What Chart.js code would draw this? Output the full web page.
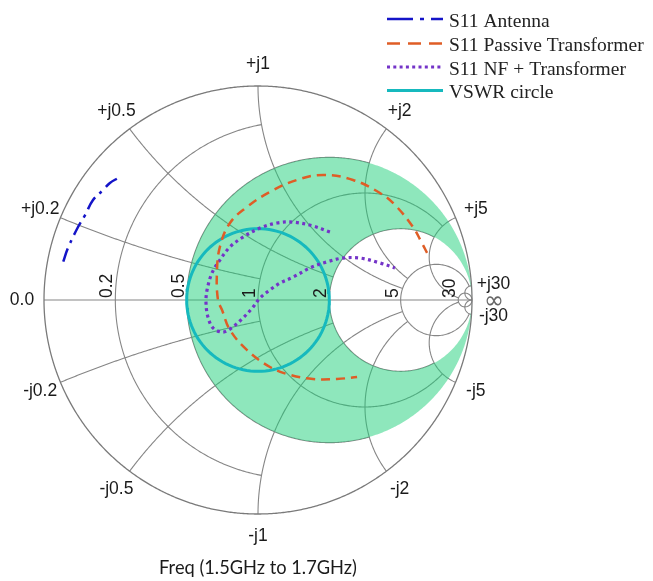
<!DOCTYPE html>
<html><head><meta charset="utf-8">
<script src="https://cdn.jsdelivr.net/npm/chart.js@4/dist/chart.umd.min.js"></script>
<style>html,body{margin:0;padding:0;background:#fff;}#wrap{width:653px;height:581px;position:relative;}</style>
</head><body><div id="wrap"><canvas id="c" width="653" height="581"></canvas></div>
<script>
// ---- data (reflection coefficient, real / imaginary parts) ----
const seriesNames = ['S11 Antenna', 'S11 Passive Transformer', 'S11 NF + Transformer', 'VSWR circle'];
const antennaRe = [-0.910, -0.888, -0.841, -0.808, -0.771, -0.724, -0.692, -0.654];
const antennaIm = [0.179, 0.243, 0.341, 0.397, 0.467, 0.514, 0.547, 0.570];
const passiveRe = [0.790, 0.766, 0.724, 0.640, 0.570, 0.444, 0.304, 0.182, 0.056, -0.051, -0.131, -0.178, -0.192, -0.187, -0.168, -0.131, -0.051, 0.056, 0.150, 0.257, 0.369, 0.463];
const passiveIm = [0.220, 0.266, 0.341, 0.444, 0.500, 0.561, 0.584, 0.561, 0.505, 0.435, 0.360, 0.248, 0.126, 0.000, -0.047, -0.140, -0.234, -0.313, -0.350, -0.369, -0.369, -0.360];
const nfRe = [0.336, 0.257, 0.164, 0.089, 0.009, -0.070, -0.131, -0.178, -0.215, -0.238, -0.243, -0.234, -0.210, -0.168, -0.131, -0.070, -0.023, 0.009, 0.056, 0.103, 0.164, 0.243, 0.322, 0.397, 0.477, 0.570, 0.640];
const nfIm = [0.318, 0.346, 0.364, 0.360, 0.336, 0.294, 0.248, 0.187, 0.126, 0.047, -0.014, -0.079, -0.131, -0.150, -0.136, -0.084, -0.033, 0.009, 0.047, 0.079, 0.107, 0.150, 0.178, 0.196, 0.196, 0.173, 0.150];
const vswrValue = 2;
// ---- Smith grid ----
const gridValues = [0.2, 0.5, 1, 2, 5, 30];
const gridLimits = [1, 2, 5, 5, 30, Infinity];
const resistanceTickLabels = ['0.2', '0.5', '1', '2', '5', '30'];
const reactanceTickLabels = ['+j0.2', '+j0.5', '+j1', '+j2', '+j5', '+j30'];
const negReactanceTickLabels = ['-j0.2', '-j0.5', '-j1', '-j2', '-j5', '-j30'];
const endTickLabels = ['0.0', '\u221E'];
const shadedBand = [0.5, 2];
const footerText = 'Freq (1.5GHz to 1.7GHz)';

function zToG(r, x) {
  const d = (r + 1) * (r + 1) + x * x;
  return [(r * r - 1 + x * x) / d, (2 * x) / d];
}
function pts(re, im) { return re.map((v, i) => ({ x: v, y: im[i] })); }
const vswrGamma = (vswrValue - 1) / (vswrValue + 1);
const vswrPts = [];
for (let a = 0; a <= 360; a += 3) vswrPts.push({ x: vswrGamma * Math.cos(a * Math.PI / 180), y: vswrGamma * Math.sin(a * Math.PI / 180) });

const legendDash = [[26, 7, 4, 7], [13, 8], [3, 3.3], []];

const smithPlugin = {
  id: 'smith',
  beforeDatasetsDraw(chart) {
    const { ctx, scales: { x: xs, y: ys } } = chart;
    const px = g => xs.getPixelForValue(g), py = g => ys.getPixelForValue(g);
    function arcPath(cx, cy, rho, a0, a1, sgn, newPath = true) {
      const n = Math.max(30, Math.ceil(Math.abs(a1 - a0) * rho * 150));
      if (newPath) ctx.beginPath();
      for (let i = 0; i <= n; i++) {
        const a = a0 + (a1 - a0) * i / n;
        const X = px(cx + rho * Math.cos(a)), Y = py(sgn * (cy + rho * Math.sin(a)));
        i ? ctx.lineTo(X, Y) : ctx.moveTo(X, Y);
      }
    }
    const norm = a => (a < 0 ? a + 2 * Math.PI : a);
    ctx.save();
    ctx.strokeStyle = '#868686';
    ctx.lineWidth = 1.1;
    gridValues.forEach((v, i) => {
      const L = gridLimits[i];
      const cx = v / (1 + v), rho = 1 / (1 + v);
      if (L === Infinity) { arcPath(cx, 0, rho, 0, 2 * Math.PI, 1); ctx.stroke(); }
      else {
        const g = zToG(v, L);
        const phi = Math.atan2(g[1], g[0] - cx);
        arcPath(cx, 0, rho, phi, 2 * Math.PI - phi, 1); ctx.stroke();
      }
      const cy = 1 / v;
      const g0 = zToG(0, v);
      const a0 = norm(Math.atan2(g0[1] - cy, g0[0] - 1));
      let a1 = 1.5 * Math.PI;
      if (L !== Infinity) { const g1 = zToG(L, v); a1 = norm(Math.atan2(g1[1] - cy, g1[0] - 1)); }
      [1, -1].forEach(s => { arcPath(1, cy, 1 / v, a0, a1, s); ctx.stroke(); });
    });
    ctx.beginPath(); ctx.moveTo(px(-1), py(0)); ctx.lineTo(px(1), py(0)); ctx.stroke();
    ctx.beginPath();
    shadedBand.forEach(r => { arcPath(r / (1 + r), 0, 1 / (1 + r), 0, 2 * Math.PI, 1, false); ctx.closePath(); });
    ctx.fillStyle = 'rgba(30,208,122,0.50)';
    ctx.fill('evenodd');
    ctx.strokeStyle = '#7a7a7a'; ctx.lineWidth = 1.3;
    arcPath(0, 0, 1, 0, 2 * Math.PI, 1); ctx.stroke();
    const cX = px(0), cY = py(0), R = px(1) - px(0), off = 22;
    ctx.fillStyle = '#1a1a1a';
    ctx.font = '17.5px "Liberation Sans", Arial, sans-serif';
    ctx.textAlign = 'center'; ctx.textBaseline = 'middle';
    gridValues.forEach((v, i) => {
      const g = zToG(0, v);
      const th = Math.atan2(g[1], g[0]);
      ctx.fillText(reactanceTickLabels[i], cX + (R + off) * Math.cos(th), cY - (R + off) * Math.sin(th));
      ctx.fillText(negReactanceTickLabels[i], cX + (R + off) * Math.cos(th), cY + (R + off) * Math.sin(th));
    });
    ctx.fillText(endTickLabels[0], cX - R - off, cY);
    ctx.fillStyle = '#666';
    ctx.font = '24px "DejaVu Sans", sans-serif';
    ctx.fillText(endTickLabels[1], cX + R + off, cY + 2);
    ctx.font = '17.5px "Liberation Sans", Arial, sans-serif';
    ctx.fillStyle = '#1a1a1a';
    ctx.textAlign = 'left'; ctx.textBaseline = 'alphabetic';
    gridValues.forEach((v, i) => {
      const xl = px((v - 1) / (v + 1));
      ctx.save();
      ctx.translate(xl - 3, cY - 2);
      ctx.rotate(-Math.PI / 2);
      ctx.fillText(resistanceTickLabels[i], 0, 0);
      ctx.restore();
    });
    ctx.restore();
  },
  afterDraw(chart) {
    const { ctx } = chart;
    ctx.save();
    const rows = [19, 43.5, 67, 90.5];
    chart.data.datasets.forEach((ds, i) => {
      ctx.beginPath();
      ctx.strokeStyle = ds.borderColor; ctx.lineWidth = ds.borderWidth;
      ctx.setLineDash(legendDash[i]);
      ctx.moveTo(387, rows[i]); ctx.lineTo(443, rows[i]); ctx.stroke();
      ctx.setLineDash([]);
      ctx.fillStyle = '#222';
      ctx.font = '19.5px "Liberation Serif", "Times New Roman", serif';
      ctx.textAlign = 'left'; ctx.textBaseline = 'alphabetic';
      ctx.fillText(ds.label, 449, rows[i] + 7.5);
    });
    ctx.font = '17px Lato, "Liberation Sans", sans-serif';
    const w = ctx.measureText(footerText).width;
    const size = 17 * 198 / w;
    ctx.font = size.toFixed(2) + 'px Lato, "Liberation Sans", sans-serif';
    ctx.textAlign = 'center'; ctx.textBaseline = 'alphabetic';
    ctx.fillStyle = '#1a1a1a';
    ctx.fillText(footerText, 258, 574);
    ctx.restore();
  }
};

new Chart(document.getElementById('c'), {
  type: 'scatter',
  data: {
    datasets: [
      { label: seriesNames[0], data: pts(antennaRe, antennaIm), showLine: true, borderColor: '#1414c8', borderWidth: 2.5, borderDash: [14, 6, 3, 6], pointRadius: 0, tension: 0.4, fill: false },
      { label: seriesNames[1], data: pts(passiveRe, passiveIm), showLine: true, borderColor: '#df5d26', borderWidth: 2.5, borderDash: [9, 6], pointRadius: 0, tension: 0.4, fill: false },
      { label: seriesNames[2], data: pts(nfRe, nfIm), showLine: true, borderColor: '#7434c8', borderWidth: 3.2, borderDash: [3, 3.5], pointRadius: 0, tension: 0.35, fill: false },
      { label: seriesNames[3], data: vswrPts, showLine: true, borderColor: '#16b9be', borderWidth: 3, pointRadius: 0, tension: 0, fill: false }
    ]
  },
  options: {
    responsive: false, animation: false, events: [],
    layout: { padding: { left: 44, top: 86, right: 181, bottom: 67 } },
    scales: {
      x: { type: 'linear', min: -1, max: 1, display: false },
      y: { type: 'linear', min: -1, max: 1, display: false }
    },
    plugins: { legend: { display: false }, tooltip: { enabled: false } }
  },
  plugins: [smithPlugin]
});
</script>
</body></html>
